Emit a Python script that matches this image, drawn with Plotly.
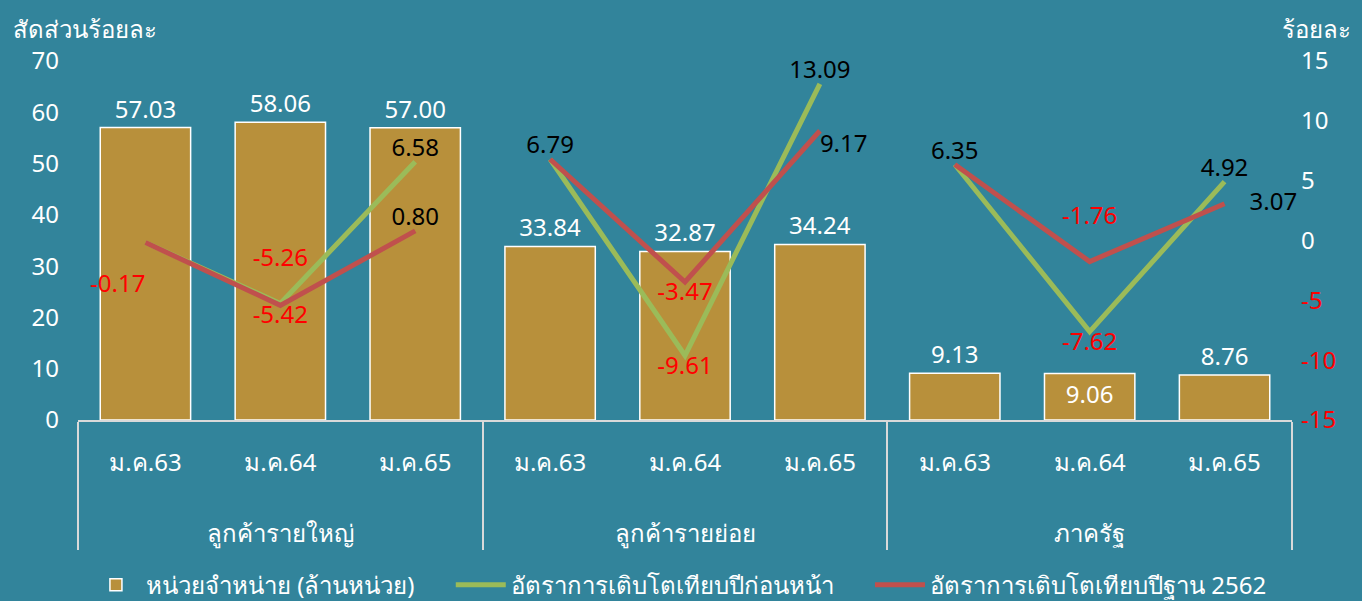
import plotly.graph_objects as go

groups = ["ลูกค้ารายใหญ่", "ลูกค้ารายย่อย", "ภาครัฐ"]
months = ["ม.ค.63", "ม.ค.64", "ม.ค.65"]

units = [57.03, 58.06, 57.00, 33.84, 32.87, 34.24, 9.13, 9.06, 8.76]
growth_yoy = [[-0.17, -5.26, 6.58], [6.79, -9.61, 13.09], [6.35, -7.62, 4.92]]
growth_base = [[-0.17, -5.42, 0.80], [6.79, -3.47, 9.17], [6.35, -1.76, 3.07]]

left_ticks = [0, 10, 20, 30, 40, 50, 60, 70]
right_ticks = [-15, -10, -5, 0, 5, 10, 15]

bg = "#32849B"
gold = "#B8903B"
green = "#9BBB59"
red = "#C0504D"
font = "Tahoma, 'Noto Sans', 'DejaVu Sans', sans-serif"
fs = 24
nb = "\u00a0"

# month labels get a tiny spacer line and group labels a leading break,
# which opens up the gap between the two label rows
spacer = "<br><span style='font-size:2px;color:" + bg + "'>.</span>"
month_lbl = [m + spacer for m in months]
group_lbl = ["<br>" + g for g in groups]
x_group = [g for g in group_lbl for _ in months]
x_month = [m for _ in groups for m in month_lbl]

fig = go.Figure()

bar_pos = ["outside"] * len(units)
bar_pos[7] = "inside"
fig.add_trace(go.Bar(
    x=[x_group, x_month], y=units,
    name="หน่วยจำหน่าย (ล้านหน่วย)" + nb * 5,
    marker=dict(color=gold, line=dict(color="white", width=1.5)),
    width=0.67,
    text=[f"{v:.2f}" for v in units],
    textposition=bar_pos,
    insidetextanchor="end",
    textfont=dict(color="white", size=fs),
    outsidetextfont=dict(color="white", size=fs),
    insidetextfont=dict(color="white", size=fs),
    cliponaxis=False,
))


def lbl_color(v):
    return "#FF0000" if v < 0 else "black"


# label placement per point; "<br>" pads a label away from its point
yoy_pos = [["top center", "top center", "top center"],
           ["top center", "bottom center", "top center"],
           ["top center", "bottom center", "top center"]]
yoy_pad = [["", "{}<br> ", "{}"], ["", "{}", "{}"], ["", "{}", "{}"]]
base_pos = [["bottom left", "bottom center", "top center"],
            ["top center", "bottom center", "middle right"],
            ["top center", "top center", "middle right"]]
base_pad = [["<br>{}", "{}", "{}"], ["{}", "{}", "<br>{}"], ["{}", "{}<br> ", nb * 4 + "{}"]]

for i, g in enumerate(group_lbl):
    vals = growth_yoy[i]
    fig.add_trace(go.Scatter(
        x=[[g] * 3, month_lbl], y=vals, yaxis="y2",
        mode="lines+text",
        name="อัตราการเติบโตเทียบปีก่อนหน้า" + nb * 5,
        legendgroup="yoy", showlegend=(i == 0),
        line=dict(color=green, width=5),
        text=[yoy_pad[i][j].format(f"{v:.2f}") if yoy_pad[i][j] else "" for j, v in enumerate(vals)],
        textposition=yoy_pos[i],
        textfont=dict(size=fs, color=[lbl_color(v) for v in vals]),
        cliponaxis=False,
    ))

for i, g in enumerate(group_lbl):
    vals = growth_base[i]
    fig.add_trace(go.Scatter(
        x=[[g] * 3, month_lbl], y=vals, yaxis="y2",
        mode="lines+text",
        name="อัตราการเติบโตเทียบปีฐาน 2562",
        legendgroup="base", showlegend=(i == 0),
        line=dict(color=red, width=5),
        text=[base_pad[i][j].format(f"{v:.2f}") for j, v in enumerate(vals)],
        textposition=base_pos[i],
        textfont=dict(size=fs, color=[lbl_color(v) for v in vals]),
        cliponaxis=False,
    ))

right_text = [f"<span style='color:#FF0000'>{t}</span>" if t < 0 else str(t) for t in right_ticks]

fig.update_layout(
    width=1362, height=601,
    paper_bgcolor=bg, plot_bgcolor=bg,
    font=dict(family=font, color="white", size=fs),
    margin=dict(l=78, r=70, t=61, b=181, autoexpand=False),
    showlegend=True,
    legend=dict(orientation="h", x=0.495, xanchor="center", y=-0.46, yanchor="middle",
                font=dict(size=fs, color="white"), bgcolor="rgba(0,0,0,0)",
                itemwidth=50, tracegroupgap=0),
    xaxis=dict(
        type="multicategory", automargin=False,
        showline=True, linecolor="#D9D9D9", linewidth=1.5,
        showdividers=True, dividercolor="#D9D9D9", dividerwidth=1.5,
        tickfont=dict(size=fs, color="white"), ticklabelstandoff=20,
        showgrid=False, ticks="",
    ),
    yaxis=dict(
        range=[0, 70], tickvals=left_ticks, showgrid=False, zeroline=False,
        automargin=False,
        tickfont=dict(size=fs, color="white"), ticklabelstandoff=18,
    ),
    yaxis2=dict(
        range=[-15, 15], overlaying="y", side="right", automargin=False,
        tickvals=right_ticks, ticktext=right_text,
        showgrid=False, zeroline=False,
        tickfont=dict(size=fs, color="white"), ticklabelstandoff=8,
    ),
    annotations=[
        dict(text="สัดส่วนร้อยละ", xref="paper", yref="paper", x=-0.055, y=1.04,
             xanchor="left", yanchor="bottom", showarrow=False,
             font=dict(size=fs, color="white")),
        dict(text="ร้อยละ", xref="paper", yref="paper", x=1.05, y=1.04,
             xanchor="right", yanchor="bottom", showarrow=False,
             font=dict(size=fs, color="white")),
    ],
)

fig.write_html("out.html", config={"displayModeBar": False},
               post_script="document.body.style.margin='0';")
